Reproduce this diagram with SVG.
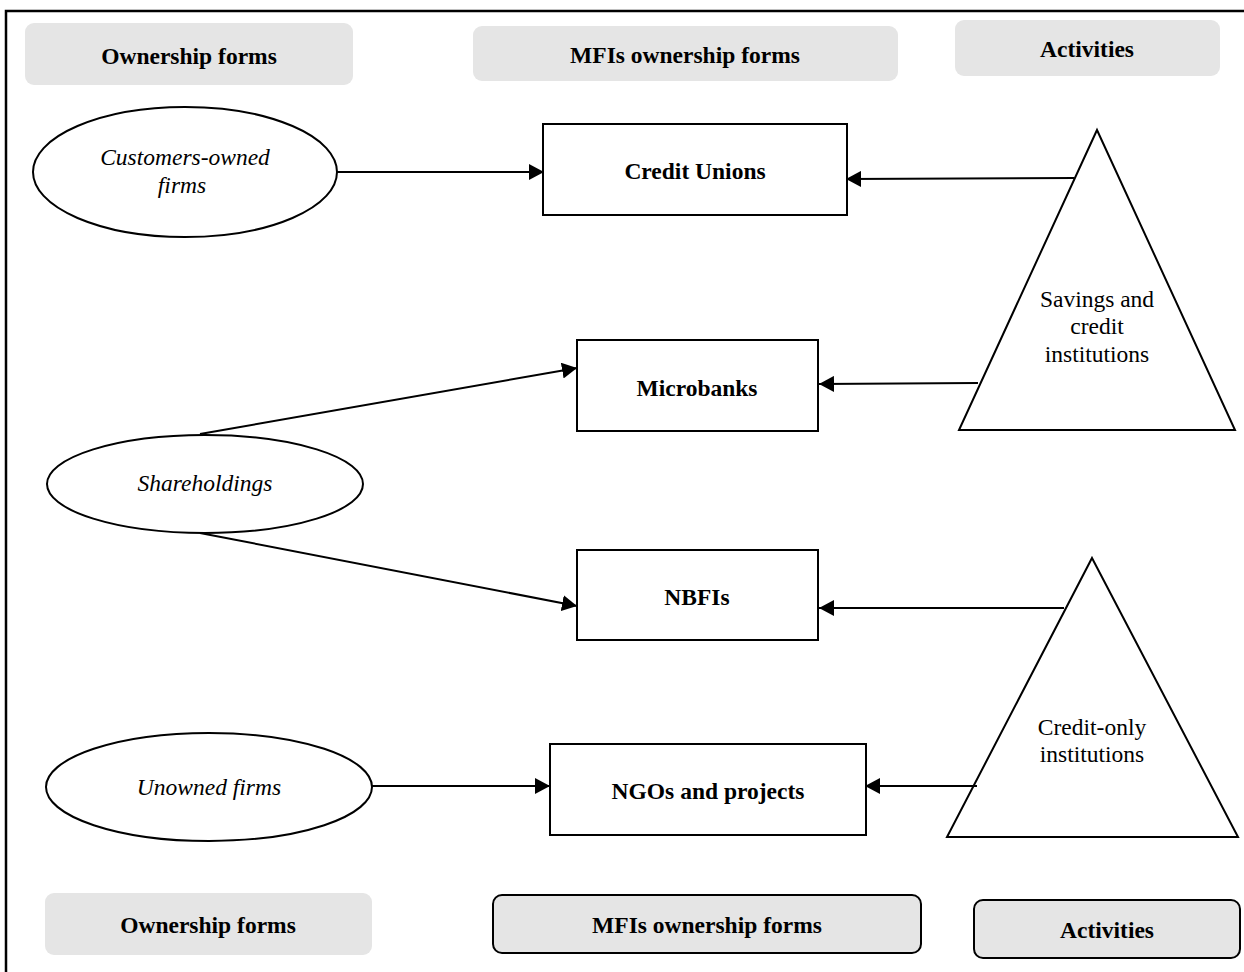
<svg xmlns="http://www.w3.org/2000/svg" width="1244" height="972" viewBox="0 0 1244 972">
<style>
.hdr{fill:#e5e5e5}
.hdrb{fill:#e5e5e5;stroke:#000;stroke-width:2}
.box{fill:#fff;stroke:#000;stroke-width:2}
.ell{fill:#fff;stroke:#000;stroke-width:2}
.b{font-family:"Liberation Serif",serif;font-weight:bold;font-size:23.5px;text-anchor:middle;fill:#000}
.i{font-family:"Liberation Serif",serif;font-style:italic;font-size:23.5px;text-anchor:middle;fill:#000}
.r{font-family:"Liberation Serif",serif;font-size:23.5px;text-anchor:middle;fill:#000}
.c{stroke:#000;stroke-width:2;fill:none;marker-end:url(#ah)}
</style>
<defs>
<marker id="ah" viewBox="0 0 15 16" refX="15" refY="8" markerWidth="15" markerHeight="16" markerUnits="userSpaceOnUse" orient="auto">
<path d="M0,0 L15,8 L0,16 Z" fill="#000"/>
</marker>
</defs>
<rect width="1244" height="972" fill="#fff"/>
<path d="M6,980 V11 H1250" fill="none" stroke="#000" stroke-width="2.5"/>

<g id="hdr-top-ownership"><rect class="hdr" x="25" y="23" width="328" height="62" rx="9"/><text class="b" x="189" y="64">Ownership forms</text></g>
<g id="hdr-top-mfis"><rect class="hdr" x="473" y="26" width="425" height="55" rx="9"/><text class="b" x="685" y="63">MFIs ownership forms</text></g>
<g id="hdr-top-activities"><rect class="hdr" x="955" y="20" width="265" height="56" rx="9"/><text class="b" x="1087" y="57">Activities</text></g>

<g id="ell-customers"><ellipse class="ell" cx="185" cy="172" rx="152" ry="65"/><text class="i" x="185" y="165">Customers-owned</text><text class="i" x="182" y="193">firms</text></g>
<g id="ell-shareholdings"><ellipse class="ell" cx="205" cy="484" rx="158" ry="49"/><text class="i" x="205" y="491">Shareholdings</text></g>
<g id="ell-unowned"><ellipse class="ell" cx="209" cy="787" rx="163" ry="54"/><text class="i" x="209" y="795">Unowned firms</text></g>

<g id="box-credit-unions"><rect class="box" x="543" y="124" width="304" height="91"/><text class="b" x="695" y="179">Credit Unions</text></g>
<g id="box-microbanks"><rect class="box" x="577" y="340" width="241" height="91"/><text class="b" x="697" y="396">Microbanks</text></g>
<g id="box-nbfis"><rect class="box" x="577" y="550" width="241" height="90"/><text class="b" x="697" y="605">NBFIs</text></g>
<g id="box-ngos"><rect class="box" x="550" y="744" width="316" height="91"/><text class="b" x="708" y="799">NGOs and projects</text></g>

<g id="tri-savings"><polygon class="box" points="1097,130 1235,430 959,430"/><text class="r" x="1097" y="307">Savings and</text><text class="r" x="1097" y="334">credit</text><text class="r" x="1097" y="362">institutions</text></g>
<g id="tri-credit-only"><polygon class="box" points="1092,558 1238,837 947,837"/><text class="r" x="1092" y="735">Credit-only</text><text class="r" x="1092" y="762">institutions</text></g>

<g id="connectors">
<path class="c" d="M337,172 H544"/>
<path class="c" d="M1074,178 L846,179"/>
<path class="c" d="M978,383 L819,384"/>
<path class="c" d="M200,434 L577,368"/>
<path class="c" d="M200,533 L577,606"/>
<path class="c" d="M1064,608 H819"/>
<path class="c" d="M372,786 H550"/>
<path class="c" d="M977,786 H865"/>
</g>

<g id="hdr-bot-ownership"><rect class="hdr" x="45" y="893" width="327" height="62" rx="9"/><text class="b" x="208" y="933">Ownership forms</text></g>
<g id="hdr-bot-mfis"><rect class="hdrb" x="493" y="895" width="428" height="58" rx="9"/><text class="b" x="707" y="933">MFIs ownership forms</text></g>
<g id="hdr-bot-activities"><rect class="hdrb" x="974" y="900" width="266" height="58" rx="9"/><text class="b" x="1107" y="938">Activities</text></g>
</svg>
